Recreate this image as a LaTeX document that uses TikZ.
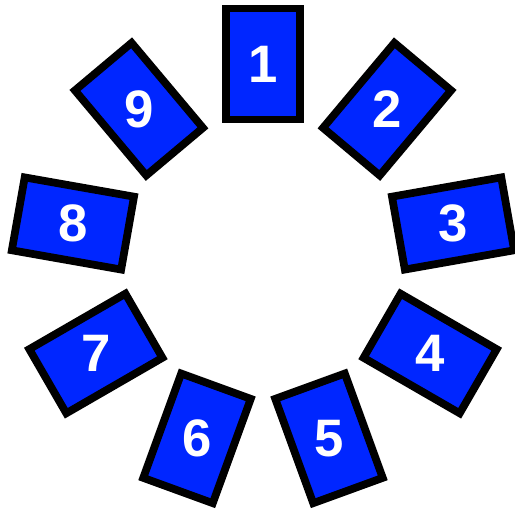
\documentclass[tikz,border=0pt]{standalone}
\usepackage{fontspec}
\setmainfont{Liberation Sans}
\usepackage{tikz}
\usepackage{xcolor}
\usetikzlibrary{positioning, calc}
\definecolor{tileblue}{HTML}{0026FF}
\tikzset{
  tile/.style={
    draw=black, fill=tileblue, line width=4.4pt,
    minimum width=1.48cm, minimum height=2.22cm,
    inner sep=0pt, outer sep=0pt
  },
  digit/.style={
    text=white, font=\fontsize{30}{30}\selectfont\bfseries,
    inner sep=0pt
  }
}

\begin{document}
\begin{tikzpicture}
    \useasboundingbox (0,0) rectangle (10.3,10.26);
    \coordinate (ctr) at (5.26,5.12);

    \foreach \i in {1,...,9} {
      \pgfmathsetmacro{\ang}{90-40*(\i-1)}
      \node[tile, rotate=\ang-90] (t\i) at ($(ctr)+(\ang:3.86)$) {};
      \node[digit] (n\i) at (t\i.center) {\i};
    }
  \end{tikzpicture}
\end{document}
